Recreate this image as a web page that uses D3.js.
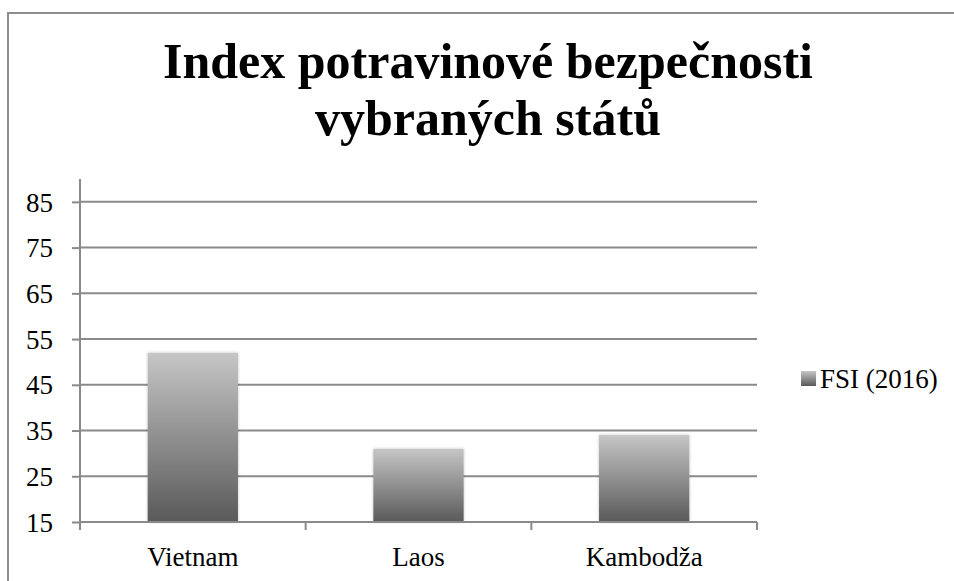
<!DOCTYPE html>
<html>
<head>
<meta charset="UTF-8">
<style>
  body { margin: 0; background: #fff; }
  svg text { font-family: 'Liberation Serif', 'DejaVu Serif', serif; fill: #000; }
  .title { font-size: 50px; font-weight: bold; text-anchor: middle; }
</style>
</head>
<body>
<script src="https://d3js.org/d3.v7.min.js"></script>
<svg id="chart" width="954" height="581"></svg>
<script>
  // data
  let categories = ["Vietnam", "Laos", "Kambodža"];
  let fsi2016 = [52, 31, 34];
  let yTicks = [15, 25, 35, 45, 55, 65, 75, 85];
  let seriesName = "FSI (2016)";
  let titleLines = ["Index potravinové bezpečnosti", "vybraných států"];

  let svg = d3.select("#chart");

  let defs = svg.append("defs");
  let grad = defs.append("linearGradient")
    .attr("id", "barGrad")
    .attr("x1", 0).attr("y1", 0).attr("x2", 0).attr("y2", 1);
  grad.append("stop").attr("offset", "0%").attr("stop-color", "#c6c6c6");
  grad.append("stop").attr("offset", "100%").attr("stop-color", "#595959");

  let shadow = defs.append("filter").attr("id", "soft")
    .attr("x", "-10%").attr("y", "-10%").attr("width", "120%").attr("height", "120%");
  shadow.append("feGaussianBlur").attr("in", "SourceAlpha").attr("stdDeviation", 1.5).attr("result", "b");
  shadow.append("feComponentTransfer").attr("in", "b").attr("result", "b2")
    .append("feFuncA").attr("type", "linear").attr("slope", 0.25);
  let merge = shadow.append("feMerge");
  merge.append("feMergeNode").attr("in", "b2");
  merge.append("feMergeNode").attr("in", "SourceGraphic");

  // outer chart frame
  svg.append("path")
    .attr("d", "M8,600 V13 H960")
    .attr("fill", "none")
    .attr("stroke", "#8e8e8e")
    .attr("stroke-width", 2);

  // title
  svg.selectAll("text.title")
    .data(titleLines)
    .enter().append("text")
      .attr("class", "title")
      .attr("x", 488)
      .attr("y", (d, i) => 78 + i * 57)
      .text(d => d);

  let margin = {left: 80, right: 197, top: 179, bottom: 59};
  let plotW = 954 - margin.left - margin.right;
  let plotH = 581 - margin.top - margin.bottom;

  let g = svg.append("g")
    .attr("transform", "translate(" + margin.left + "," + margin.top + ")");

  let x = d3.scaleBand()
    .domain(categories)
    .range([0, plotW])
    .paddingInner(0.6)
    .paddingOuter(0.3);

  let y = d3.scaleLinear()
    .domain([15, 90])
    .range([plotH, 0]);

  // gridlines
  g.append("g")
    .selectAll("line")
    .data(yTicks.slice(1))
    .enter().append("line")
      .attr("x1", 0).attr("x2", plotW)
      .attr("y1", d => y(d)).attr("y2", d => y(d))
      .attr("stroke", "#8a8a8a")
      .attr("stroke-width", 2);

  // y axis
  let yAxis = g.append("g")
    .call(d3.axisLeft(y).tickValues(yTicks).tickSize(8).tickPadding(19));
  yAxis.attr("font-size", null).attr("font-family", null);
  yAxis.select(".domain").attr("stroke", "#8a8a8a").attr("stroke-width", 2)
    .attr("d", "M0," + plotH + "V0");
  yAxis.selectAll(".tick line").attr("stroke", "#8a8a8a").attr("stroke-width", 2);
  yAxis.selectAll(".tick text")
    .style("font-size", "27px").attr("fill", "#000").attr("dy", "0.34em");

  // bars
  g.selectAll("rect.bar")
    .data(fsi2016)
    .enter().append("rect")
      .attr("class", "bar")
      .attr("x", (d, i) => x(categories[i]))
      .attr("width", x.bandwidth())
      .attr("y", d => y(d))
      .attr("height", d => plotH - y(d))
      .attr("fill", "url(#barGrad)")
      .attr("filter", "url(#soft)");

  // x axis
  let xAxisG = g.append("g").attr("transform", "translate(0," + plotH + ")");
  xAxisG.append("line")
    .attr("x1", 0).attr("x2", plotW)
    .attr("stroke", "#8a8a8a").attr("stroke-width", 2);
  let step = plotW / categories.length;
  xAxisG.selectAll("line.tk")
    .data(d3.range(categories.length + 1))
    .enter().append("line")
      .attr("class", "tk")
      .attr("x1", d => d * step).attr("x2", d => d * step)
      .attr("y1", 0).attr("y2", 8)
      .attr("stroke", "#8a8a8a").attr("stroke-width", 2);
  xAxisG.selectAll("text")
    .data(categories)
    .enter().append("text")
      .attr("x", d => x(d) + x.bandwidth() / 2)
      .attr("y", 44)
      .attr("text-anchor", "middle")
      .style("font-size", "27px")
      .text(d => d);

  // legend
  let legend = svg.append("g").attr("transform", "translate(801,371)");
  legend.append("rect")
    .attr("width", 15).attr("height", 15)
    .attr("fill", "url(#barGrad)");
  legend.append("text")
    .attr("x", 19).attr("y", 17)
    .style("font-size", "27px")
    .text(seriesName);
</script>
</body>
</html>
